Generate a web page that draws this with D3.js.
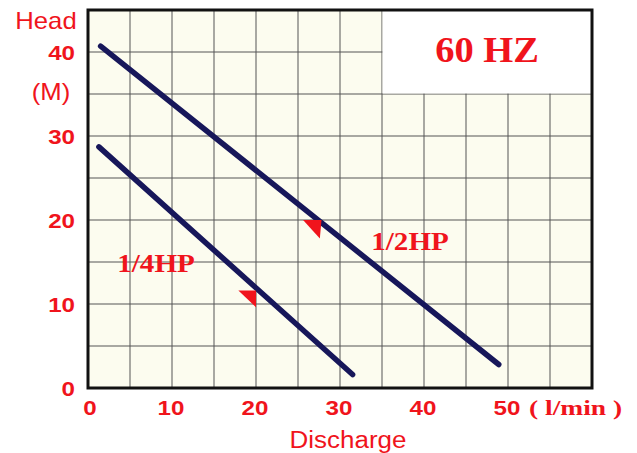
<!DOCTYPE html>
<html lang="en">
<head>
<meta charset="utf-8">
<title>Head vs Discharge 60 HZ</title>
<script src="https://cdn.jsdelivr.net/npm/d3@7"></script>
<style>
  body { margin: 0; background: #fff; }
</style>
</head>
<body>
<script>
// data (l/min, m)
var xTicks = [0, 10, 20, 30, 40, 50];
var yTicks = [0, 10, 20, 30, 40];
var halfHP = [[1.5, 40.7], [48.9, 2.8]];
var quarterHP = [[1.3, 28.7], [31.5, 1.6]];
// red direction markers (triangles) next to each curve
var halfMarker = [[25.6, 20], [27.8, 20], [27.6, 17.8]];
var quarterMarker = [[17.9, 11.6], [20.0, 11.6], [20.0, 9.6]];

var w = 637, h = 453;
var red = "#f0141c", navy = "#17175a";
var sans = "'Liberation Sans', Arial, sans-serif";
var serif = "'Liberation Serif', 'Times New Roman', serif";

var svg = d3.select("body").append("svg")
    .attr("width", w)
    .attr("height", h);

var x = d3.scaleLinear().domain([0, 60]).range([88, 592]);
var y = d3.scaleLinear().domain([0, 45]).range([388, 10]);

// plot background
svg.append("rect")
    .attr("x", x(0)).attr("y", y(45))
    .attr("width", x(60) - x(0)).attr("height", y(0) - y(45))
    .attr("fill", "#fcfcef");

// grid every 5 units
var gx = d3.range(5, 60, 5), gy = d3.range(5, 45, 5);
svg.selectAll(".gx").data(gx).enter().append("line")
    .attr("x1", d => x(d)).attr("x2", d => x(d))
    .attr("y1", y(0)).attr("y2", y(45))
    .attr("stroke", "#555").attr("stroke-width", 1);
svg.selectAll(".gy").data(gy).enter().append("line")
    .attr("x1", x(0)).attr("x2", x(60))
    .attr("y1", d => y(d)).attr("y2", d => y(d))
    .attr("stroke", "#555").attr("stroke-width", 1);

// white box for the frequency title
svg.append("rect")
    .attr("x", x(35) + 0.5).attr("y", y(45))
    .attr("width", x(60) - x(35) - 0.5).attr("height", y(35) - y(45) - 0.5)
    .attr("fill", "#fff");

// frame
svg.append("rect")
    .attr("x", x(0)).attr("y", y(45))
    .attr("width", x(60) - x(0)).attr("height", y(0) - y(45))
    .attr("fill", "none").attr("stroke", "#111").attr("stroke-width", 3);

// curves
var line = d3.line().x(d => x(d[0])).y(d => y(d[1]));
[halfHP, quarterHP].forEach(function(s) {
    svg.append("path").datum(s)
        .attr("d", line)
        .attr("fill", "none")
        .attr("stroke", navy)
        .attr("stroke-width", 5.5)
        .attr("stroke-linecap", "round");
});

[halfMarker, quarterMarker].forEach(function(t) {
    svg.append("path").datum(t)
        .attr("d", d => line(d) + "Z")
        .attr("fill", red);
});

// text helper, the scan is a bit stretched sideways
function label(txt, px, py, size, opts) {
    opts = opts || {};
    var t = svg.append("text")
        .attr("transform", "translate(" + px + "," + py + ") scale(" + (opts.sx || 1.2) + ",1)")
        .attr("text-anchor", opts.anchor || "middle")
        .attr("font-family", opts.family || sans)
        .attr("font-weight", opts.bold ? "bold" : "normal")
        .attr("font-size", size)
        .attr("fill", red)
        .text(txt);
    return t;
}

// y tick labels
yTicks.forEach(function(d) {
    label(d, 75, y(d) + 8, 21, {anchor: "end", bold: true, sx: 1.15});
});
// x tick labels
xTicks.forEach(function(d) {
    label(d, x(d) + (d == 0 ? 2 : -1), 415, 21, {bold: true, sx: 1.15});
});
label("( l/min )", 529, 415, 22, {anchor: "start", bold: true, family: serif, sx: 1.25});

// axis titles
label("Head", 46, 29, 24, {sx: 1.07});
label("(M)", 51, 100, 24, {sx: 1.07});
label("Discharge", 348, 448, 23, {sx: 1.13});

// curve labels and title
label("1/2HP", 410, 250, 26, {bold: true, family: serif, sx: 1.12});
label("1/4HP", 156, 272, 26, {bold: true, family: serif, sx: 1.12});
label("60 HZ", 487, 62, 35, {bold: true, family: serif, sx: 1.1});
</script>
</body>
</html>
